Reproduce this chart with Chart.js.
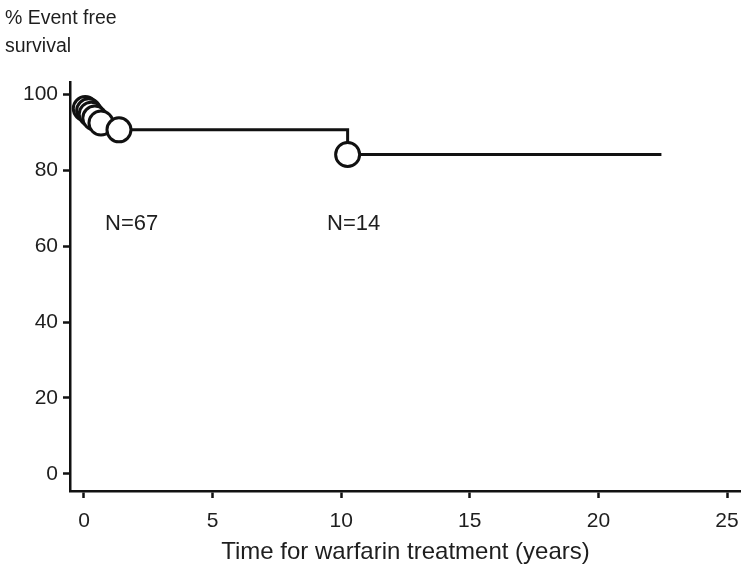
<!DOCTYPE html>
<html><head><meta charset="utf-8">
<script src="https://cdn.jsdelivr.net/npm/chart.js@4/dist/chart.umd.min.js"></script>
<style>html,body{margin:0;padding:0;background:#fff;overflow:hidden;}</style>
</head><body>
<canvas id="c" width="741" height="577"></canvas>
<script>
// ---- data ----
const eventTimes    = [0.05, 0.18, 0.28, 0.42, 0.66, 1.36, 10.25];
const eventSurvival = [96.2, 95.6, 94.7, 93.7, 92.4, 90.6, 84.1];
const curveTimes    = [0.05, 0.18, 0.28, 0.42, 0.66, 1.36, 10.25, 22.45];
const curveSurvival = [96.2, 95.6, 94.7, 93.7, 92.4, 90.6, 84.1, 84.1];
const xTicks = [0, 5, 10, 15, 20, 25];
const yTicks = [0, 20, 40, 60, 80, 100];
const atRiskLabels = ['N=67', 'N=14'];
const atRiskTimes  = [0.82, 9.45];
const atRiskLevel  = [65.8, 65.8];
const yTitleLines = ['% Event free', 'survival'];
const xTitle = 'Time for warfarin treatment (years)';

const FONT = "'Liberation Sans', Arial, sans-serif";
const INK = '#1e1e1e';

const atRiskPlugin = {
  id: 'atRisk',
  afterDatasetsDraw(chart) {
    const {ctx, scales: {x, y}} = chart;
    ctx.save();
    ctx.font = "22px " + FONT;
    ctx.fillStyle = INK;
    ctx.textAlign = 'left';
    ctx.textBaseline = 'middle';
    atRiskLabels.forEach((t, i) => {
      ctx.fillText(t, x.getPixelForValue(atRiskTimes[i]), y.getPixelForValue(atRiskLevel[i]));
    });
    ctx.restore();
  }
};

new Chart(document.getElementById('c'), {
  type: 'scatter',
  data: {
    datasets: [
      {
        data: eventTimes.map((t, i) => ({x: t, y: eventSurvival[i]})),
        showLine: false,
        pointRadius: 12,
        pointBorderWidth: 3,
        pointBackgroundColor: '#ffffff',
        pointBorderColor: '#111111',
        clip: false
      },
      {
        data: curveTimes.map((t, i) => ({x: t, y: curveSurvival[i]})),
        showLine: true,
        stepped: 'before',
        borderColor: '#111111',
        borderWidth: 3,
        pointRadius: 0,
        clip: false
      }
    ]
  },
  options: {
    responsive: false,
    animation: false,
    devicePixelRatio: 1,
    layout: {autoPadding: false, padding: {left: 5, right: 0, top: 0, bottom: 0}},
    plugins: {
      legend: {display: false},
      tooltip: {enabled: false},
      title: {
        display: true,
        text: yTitleLines,
        align: 'start',
        color: INK,
        font: {family: FONT, size: 19.5, weight: 'normal', lineHeight: 1.44},
        padding: {top: 5, bottom: 20.84}
      }
    },
    scales: {
      x: {
        type: 'linear',
        min: -0.544,
        max: 25.544,
        afterBuildTicks: s => { s.ticks = xTicks.map(v => ({value: v})); },
        afterFit: s => { s.height = 86; s.paddingLeft = 0; s.paddingRight = 0; },
        grid: {drawOnChartArea: false, drawTicks: true, tickLength: 7, tickWidth: 2.5, tickColor: '#111'},
        border: {display: true, color: '#111', width: 2.5},
        ticks: {color: INK, font: {family: FONT, size: 21}, padding: 11, maxRotation: 0},
        title: {display: true, text: xTitle, color: INK, font: {family: FONT, size: 24}, padding: {top: 0, bottom: 10}}
      },
      y: {
        type: 'linear',
        min: -4.5,
        max: 103.2,
        afterBuildTicks: s => { s.ticks = yTicks.map(v => ({value: v})); },
        afterFit: s => { s.width = 65; s.paddingTop = 0; s.paddingBottom = 0; },
        grid: {drawOnChartArea: false, drawTicks: true, tickLength: 7, tickWidth: 2.5, tickColor: '#111'},
        border: {display: true, color: '#111', width: 2.5},
        ticks: {color: INK, font: {family: FONT, size: 21}, padding: 5}
      }
    }
  },
  plugins: [atRiskPlugin]
});
</script>
</body></html>
